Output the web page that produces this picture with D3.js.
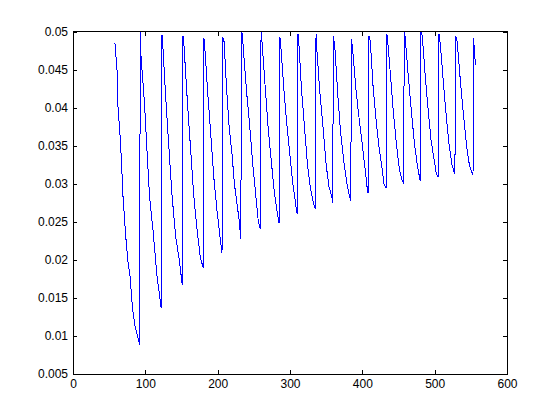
<!DOCTYPE html>
<html><head><meta charset="utf-8">
<script src="https://cdn.jsdelivr.net/npm/d3@7"></script>
<style>body{margin:0;background:#fff}svg{display:block}</style>
</head><body>
<svg id="c" width="560" height="420"></svg>
<script>
const xValues = [
  58,61,62,65,67,69,73,76,79,81,83,86,89,92,
  93,94,99,103,106,111,116,122,
  123,124,128,132,137,142,147,151,
  152,153,158,162,167,172,176,180,
  181,182,186,190,195,199,203,206,
  207,209,212,216,220,223,227,230,232,
  233,235,240,244,248,252,256,259,
  260,262,266,270,274,278,282,285,
  286,287,291,295,300,304,308,310,
  311,312,316,320,324,328,332,335,
  336,337,341,346,350,354,358,359,
  360,362,366,370,375,379,382,384,
  385,387,391,395,400,404,407,408,
  409,411,415,419,423,428,430,433,
  434,435,439,443,447,451,454,457,
  458,459,464,468,472,476,479,480,
  481,483,487,491,495,500,502,505,
  506,508,512,516,520,524,527,528,
  529,531,536,540,544,548,551,553,
  554,555,557
];
const yValues = [
  .04849,.04481,.04034,.03639,.03298,.02851,.02298,.01970,.01773,.01510,.01312,.01115,.01010,.00888,
  .0505,.04678,.04034,.03311,.02811,.02351,.01799,.01361,
  .04958,.04849,.04165,.03560,.02837,.02298,.01996,.01671,
  .04941,.04888,.04099,.03534,.02837,.02351,.02035,.01895,
  .04915,.04823,.04231,.03705,.03048,.02653,.02325,.02084,
  .04928,.04862,.04297,.03731,.03376,.03008,.02719,.02496,.02268,
  .0505,.04836,.04205,.03797,.03311,.02916,.02522,.02400,
  .0505,.04770,.04231,.03705,.03311,.02916,.02640,.02478,
  .04924,.04849,.04310,.03837,.03363,.02995,.02719,.02597,
  .04967,.04888,.04231,.03745,.03271,.02956,.02759,.02670,
  .04967,.04783,.04231,.03705,.03245,.02956,.02824,.02741,
  .04941,.04796,.04178,.03666,.03245,.02982,.02851,.02776,
  .04897,.04717,.04257,.03902,.03508,.03179,.02916,.02873,
  .04941,.04875,.04257,.03837,.03482,.03153,.02995,.02939,
  .04967,.04888,.04415,.03929,.03534,.03206,.03074,.03004,
  .0505,.04941,.04362,.03929,.03534,.03245,.03087,.03038,
  .0505,.04928,.04415,.03968,.03574,.03271,.03140,.03083,
  .04967,.04809,.04336,.03889,.03508,.03245,.03153,.03136,
  .04941,.04875,.04297,.03889,.03508,.03245,.03153,.03123,
  .04915,.04691,.04564
];
const xTicks = [0,100,200,300,400,500,600];
const xTickLabels = ["0","100","200","300","400","500","600"];
const yTicks = [0.005,0.01,0.015,0.02,0.025,0.03,0.035,0.04,0.045,0.05];
const yTickLabels = ["0.005","0.01","0.015","0.02","0.025","0.03","0.035","0.04","0.045","0.05"];

const L = 73, R = 507, T = 31.5, B = 374;
const svg = d3.select("#c");
const x = d3.scaleLinear().domain([0,600]).range([L,R]);
const y = d3.scaleLinear().domain([0.005,0.05]).range([B,T]);

svg.append("defs").append("clipPath").attr("id","clip")
  .append("rect").attr("x",L).attr("y",T).attr("width",R-L).attr("height",B-T);

const pts = xValues.map((v,i)=>[v,yValues[i]]);
svg.append("path").datum(pts)
  .attr("clip-path","url(#clip)")
  .attr("fill","none").attr("stroke","#0000ff").attr("stroke-width",1)
  .attr("shape-rendering","crispEdges")
  .attr("d", d3.line().x(d=>x(d[0])).y(d=>y(d[1])));

const font = "'Liberation Sans', Arial, Helvetica, sans-serif";
function style(g){
  g.select(".domain").remove();
  g.selectAll(".tick line").attr("stroke","#000").attr("shape-rendering","crispEdges");
  g.selectAll("text").attr("fill","#000").style("font-family",font).style("font-size","12px");
}
svg.append("g").attr("transform",`translate(0,${B})`)
  .call(d3.axisBottom(x).tickValues(xTicks).tickFormat((d,i)=>xTickLabels[i]).tickSizeInner(-4).tickSizeOuter(0).tickPadding(5))
  .call(style);
svg.append("g").attr("transform",`translate(0,${T})`)
  .call(d3.axisTop(x).tickValues(xTicks).tickFormat("").tickSizeInner(-4).tickSizeOuter(0))
  .call(style);
svg.append("g").attr("transform",`translate(${L},0)`)
  .call(d3.axisLeft(y).tickValues(yTicks).tickFormat((d,i)=>yTickLabels[i]).tickSizeInner(-4).tickSizeOuter(0).tickPadding(5))
  .call(style);
svg.append("g").attr("transform",`translate(${R},0)`)
  .call(d3.axisRight(y).tickValues(yTicks).tickFormat("").tickSizeInner(-4).tickSizeOuter(0))
  .call(style);

svg.append("rect").attr("x",L).attr("y",T).attr("width",R-L).attr("height",B-T)
  .attr("fill","none").attr("stroke","#000").attr("stroke-width",1).attr("shape-rendering","crispEdges");
</script>
</body></html>
